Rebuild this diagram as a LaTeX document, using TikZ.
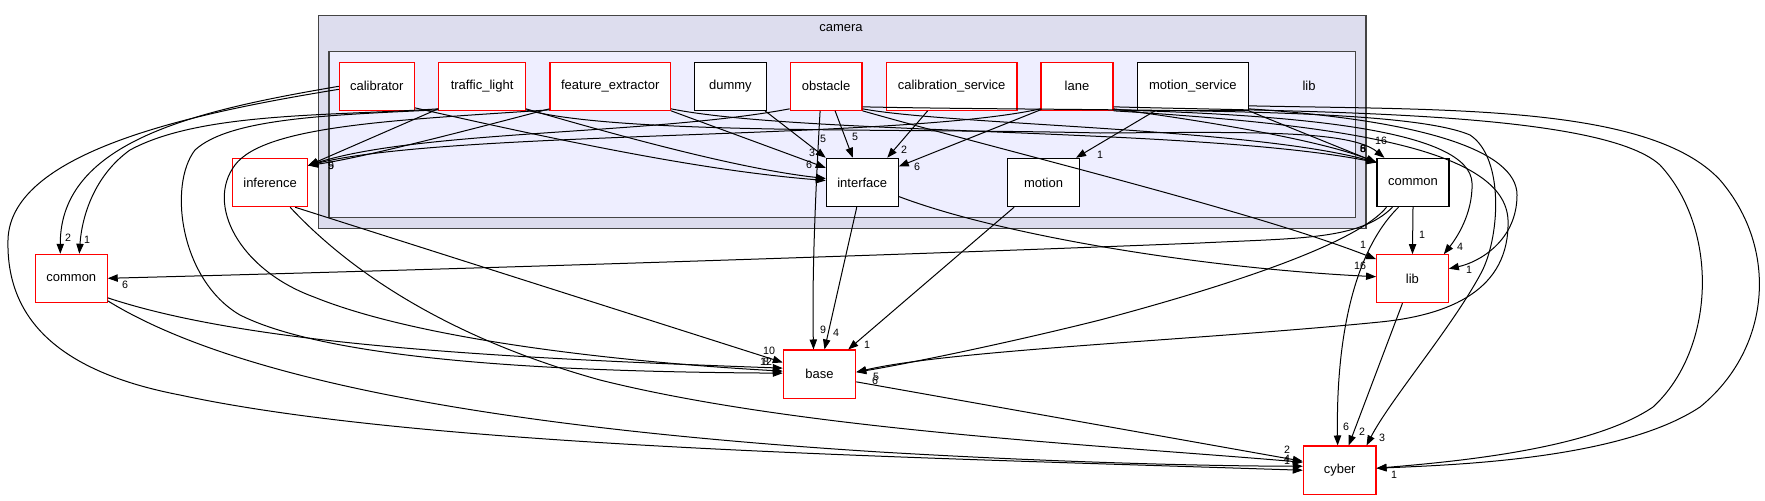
\documentclass[tikz,border=0pt]{standalone}
\usepackage{fontspec}
\setmainfont{Liberation Sans}
\usetikzlibrary{arrows.meta,calc,fit}
\definecolor{camfill}{HTML}{DDDDEE}
\definecolor{libfill}{HTML}{EEEEFF}
\definecolor{clborder}{HTML}{444444}
\begin{document}
\begin{tikzpicture}[x=0.75pt,y=-0.75pt,
  clus/.style={draw=clborder, line width=1pt, inner sep=0},
  nd/.style={draw, fill=white, inner sep=0, line width=0.8pt, font=\fontsize{9.75}{11}\selectfont, anchor=center},
  rn/.style={nd, draw=red},
  bn/.style={nd, draw=black},
  sz/.style 2 args={minimum width=#1*0.75pt, minimum height=#2*0.75pt},
  dep/.style={-{Triangle[length=7.5pt,width=5.5pt]}, line width=0.75pt},
  lb/.style={font=\fontsize{8}{9}\selectfont, inner sep=0},
  cl/.style={font=\fontsize{9.75}{11}\selectfont, inner sep=0}]
\useasboundingbox (0,0) rectangle (1765,500);
% clusters
\node[clus, fill=camfill, fit={(318.3,15.7)(1366,228.3)}] (camera) {};
\node[clus, fill=libfill, fit={(329,51.7)(1355.5,217.3)}] (libc) {};
\node[cl] (camlbl) at (841,27.7) {camera};
\node[cl] (liblbl) at (1309,86) {lib};
% nodes
\node[rn, sz={75}{48}] (calibrator) at (376.8,86.3) {calibrator};
\node[rn, sz={86.6}{48}] (tl) at (482.1,86.3) {traffic\_light};
\node[rn, sz={120.5}{48}] (fe) at (610.25,86.3) {feature\_extractor};
\node[bn, sz={72.3}{48}] (dummy) at (730.35,86.3) {dummy};
\node[rn, sz={71.8}{48}] (obstacle) at (826.1,86.3) {obstacle};
\node[rn, sz={130.8}{48}] (calserv) at (951.6,86.3) {calibration\_service};
\node[rn, sz={72}{48}] (lane) at (1077,86.3) {lane};
\node[bn, sz={110.7}{48}] (ms) at (1192.85,86.3) {motion\_service};
\node[rn, sz={75}{48.4}] (inference) at (270.1,182.5) {inference};
\node[bn, sz={71.9}{48.4}] (interface) at (862.25,182.5) {interface};
\node[bn, sz={71.9}{48.4}] (motion) at (1043.55,182.5) {motion};
\node[bn, sz={72}{48.4}] (commonr) at (1413,182.5) {common};
\node[rn, sz={71.8}{48}] (commonl) at (71.3,278.3) {common};
\node[rn, sz={71.7}{48}] (lib) at (1412.45,278.7) {lib};
\node[rn, sz={72.4}{48.3}] (base) at (819.5,374.15) {base};
\node[rn, sz={72.7}{48.5}] (cyber) at (1339.65,470.25) {cyber};
% calibrator
\draw[dep] (calibrator.west) .. controls (200,110) and (60,140) .. ($(commonl.north)+(-11,0)$);
\draw[dep] ($(calibrator.west)+(0,3)$) .. controls (200,112) and (10,150) .. (8,240) .. controls (6,320) and (60,372) .. (180,395) .. controls (420,447) and (900,457) .. (cyber.west);
\draw[dep] ($(calibrator.south east)+(0,-3)$) .. controls (600,150) and (720,172) .. ($(interface.west)+(0,-2)$);
% traffic_light
\draw[dep] ($(tl.south west)+(0,-2)$) -- ($(inference.east)+(0,-17)$);
\draw[dep] ($(tl.south west)+(0,-2)$) .. controls (330,116) and (200,112) .. (130,150) .. controls (95,175) and (82,215) .. ($(commonl.north)+(8,0)$);
\draw[dep] ($(tl.south west)+(0,-1)$) .. controls (330,115) and (230,118) .. (195,150) .. controls (168,185) and (180,280) .. (240,315) .. controls (340,365) and (600,372) .. ($(base.west)+(0,-1)$);
\draw[dep] ($(tl.south east)+(0,-2)$) .. controls (650,145) and (750,170) .. ($(interface.west)+(0,-4)$);
\draw[dep] ($(tl.south east)+(0,-1)$) .. controls (620,135) and (900,128) .. (1100,133) .. controls (1250,132) and (1350,130) .. ($(commonr.north west)+(8,0)$);
% feature_extractor
\draw[dep] ($(fe.south west)+(0,-2)$) .. controls (450,135) and (360,158) .. ($(inference.east)+(0,-17)$);
\draw[dep] ($(fe.south west)+(0,-1)$) .. controls (400,120) and (265,125) .. (235,165) .. controls (205,205) and (240,270) .. (314,297) .. controls (420,340) and (620,362) .. ($(base.west)+(0,-3)$);
\draw[dep] (fe.south east) -- ($(interface.north west)+(0,10)$);
\draw[dep] ($(fe.south east)+(0,-2)$) .. controls (800,135) and (1200,128) .. ($(commonr.west)+(0,-20)$);
% dummy
\draw[dep] ($(dummy.south east)+(-2,0)$) -- (interface.north west);
% obstacle
\draw[dep] ($(obstacle.south west)+(0,-2)$) .. controls (650,135) and (420,130) .. ($(inference.east)+(0,-17)$);
\draw[dep] ($(obstacle.south)+(9,0)$) -- ($(interface.north)+(-9.5,0)$);
\draw[dep] ($(obstacle.south)+(-6,0)$) .. controls (815,200) and (812,280) .. ($(base.north)+(-6,0)$);
\draw[dep] (obstacle.south east) .. controls (1000,150) and (1250,210) .. ($(lib.north west)+(0,5)$);
\draw[dep] ($(obstacle.south east)+(0,-2)$) .. controls (950,125) and (1250,128) .. ($(commonr.west)+(0,-20)$);
\draw[dep] ($(obstacle.south east)+(0,-4)$) .. controls (1100,112) and (1400,105) .. (1470,135) .. controls (1505,158) and (1500,240) .. (1480,275) .. controls (1450,330) and (1390,400) .. ($(cyber.north east)+(-10,0)$);
% calibration_service
\draw[dep] ($(calserv.south west)+(42,0)$) -- ($(interface.north east)+(-11.5,0)$);
% lane
\draw[dep] ($(lane.south west)+(0,-2)$) .. controls (900,140) and (450,130) .. ($(inference.east)+(0,-17)$);
\draw[dep] ($(lane.south west)+(0,-1)$) -- ($(interface.east)+(0,-16)$);
\draw[dep] ($(lane.south east)+(0,-2)$) .. controls (1200,120) and (1320,140) .. ($(commonr.west)+(0,-20)$);
\draw[dep] ($(lane.south east)+(0,-1)$) .. controls (1300,115) and (1470,130) .. (1472,183) .. controls (1473,215) and (1455,240) .. ($(lib.north east)+(-5,0)$);
\draw[dep] (lane.south east) .. controls (1350,125) and (1505,150) .. (1508,220) .. controls (1510,290) and (1450,315) .. (1380,322) .. controls (1200,340) and (950,350) .. ($(base.east)+(0,-2)$);
\draw[dep] ($(lane.south east)+(0,-4)$) .. controls (1300,112) and (1600,110) .. (1660,165) .. controls (1720,230) and (1715,350) .. (1653,407) .. controls (1590,450) and (1450,462) .. ($(cyber.east)+(0,-2)$);
% motion_service
\draw[dep] ($(ms.south west)+(18,0)$) -- ($(motion.north east)+(-4,0)$);
\draw[dep] (ms.south east) -- ($(commonr.west)+(0,-20)$);
\draw[dep] ($(ms.south east)+(0,-2)$) .. controls (1420,120) and (1517,150) .. (1517,195) .. controls (1517,240) and (1480,262) .. ($(lib.east)+(0,-10)$);
\draw[dep] ($(ms.south east)+(0,-5)$) .. controls (1450,110) and (1650,105) .. (1720,180) .. controls (1780,250) and (1770,350) .. (1700,407) .. controls (1620,460) and (1450,465) .. ($(cyber.east)+(0,-2)$);
% interface
\draw[dep] ($(interface.south)+(-5.5,0)$) -- ($(base.north)+(5,0)$);
\draw[dep] ($(interface.east)+(0,14)$) .. controls (1000,235) and (1200,268) .. ($(lib.west)+(0,-2)$);
% motion
\draw[dep] ($(motion.south west)+(7,0)$) -- ($(base.north east)+(-8,0)$);
% inference
\draw[dep] ($(inference.south east)+(-13,0)$) -- ($(base.north west)+(0,13)$);
\draw[dep] ($(inference.south east)+(-18,0)$) .. controls (330,250) and (420,330) .. (600,380) .. controls (800,430) and (1100,445) .. ($(cyber.west)+(0,-8)$);
% common (left)
\draw[dep] ($(commonl.south east)+(0,-5)$) .. controls (250,345) and (500,358) .. ($(base.west)+(0,-6)$);
\draw[dep] ($(commonl.south east)+(0,-2)$) .. controls (220,370) and (450,425) .. (880,452) .. controls (1050,462) and (1200,466) .. ($(cyber.west)+(0,-4)$);
% common (right)
\draw[dep] (commonr.south) -- (lib.north);
\draw[dep] ($(commonr.south west)+(16,0)$) .. controls (1360,240) and (1300,238) .. (1200,243) .. controls (900,255) and (500,268) .. (commonl.east);
\draw[dep] ($(commonr.south west)+(10,0)$) .. controls (1360,240) and (1250,280) .. (1100,320) .. controls (1000,345) and (900,365) .. ($(base.east)+(0,-2)$);
\draw[dep] ($(commonr.south west)+(22,0)$) .. controls (1350,255) and (1336,350) .. ($(cyber.north)+(-2,0)$);
% lib
\draw[dep] ($(lib.south)+(-10,0)$) -- ($(cyber.north)+(9,0)$);
% base
\draw[dep] ($(base.south east)+(0,-17)$) -- ($(cyber.west)+(0,-9)$);
% labels
\node[lb] (a1) at (68,238) {2};
\node[lb] (a2) at (87,240) {1};
\node[lb] (a3) at (125,285) {6};
\node[lb] (b1) at (331,166) {9};
\node[lb] (b2) at (331,166) {5};
\node[lb] (c1) at (823,139) {5};
\node[lb] (c2) at (855,137) {5};
\node[lb] (c3) at (812,153) {3};
\node[lb] (c4) at (809,165) {6};
\node[lb] (c5) at (904,150) {2};
\node[lb] (c6) at (917,167) {6};
\node[lb] (d1) at (1100,155) {1};
\node[lb] (e1) at (1381,141) {16};
\node[lb] (e2) at (1363,149) {6};
\node[lb] (e3) at (1363,149) {8};
\node[lb] (e4) at (1363,149) {5};
\node[lb] (f1) at (1422,235) {1};
\node[lb] (f2) at (1460,247) {4};
\node[lb] (f3) at (1469,270) {1};
\node[lb] (f4) at (1363,245) {1};
\node[lb] (f5) at (1360,266) {16};
\node[lb] (g1) at (823,330) {9};
\node[lb] (g2) at (836,333) {4};
\node[lb] (g3) at (867,345) {1};
\node[lb] (g4) at (769,351) {10};
\node[lb] (g5) at (766,362) {12};
\node[lb] (g6) at (766,362) {8};
\node[lb] (g7) at (875,381) {6};
\node[lb] (g8) at (876,377) {5};
\node[lb] (h1) at (1346,427) {6};
\node[lb] (h2) at (1362,432) {2};
\node[lb] (h3) at (1382,438) {3};
\node[lb] (h4) at (1287,450) {2};
\node[lb] (h5) at (1287,459) {4};
\node[lb] (h6) at (1287,461) {1};
\node[lb] (h7) at (1394,475) {1};
\end{tikzpicture}
\end{document}
